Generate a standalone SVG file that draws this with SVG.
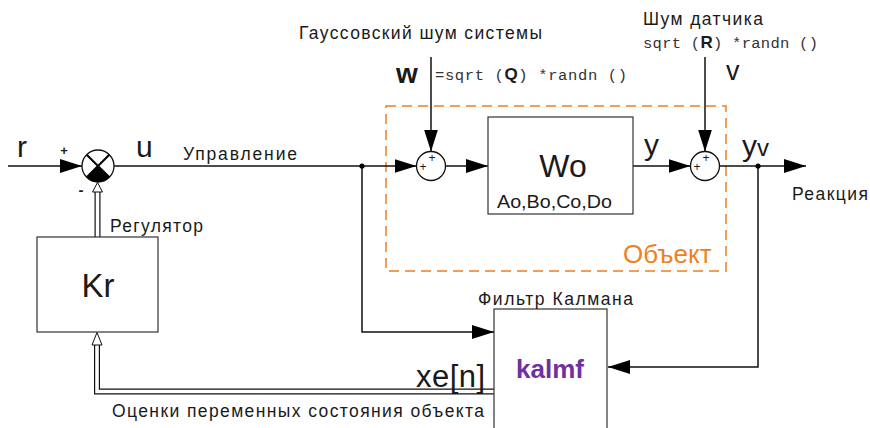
<svg xmlns="http://www.w3.org/2000/svg" width="870" height="428" viewBox="0 0 870 428">
<style>
.t{font-family:"Liberation Sans",Arial,sans-serif;fill:#1a1a1a}
.m{font-family:"Liberation Mono","Courier New",monospace;fill:#333}
.ln{fill:none;stroke:#111;stroke-width:1.5}
.box{fill:#fff;stroke:#333;stroke-width:1.2}
.sum{fill:#fff;stroke:#111;stroke-width:1.3}
.dbo{fill:none;stroke:#111;stroke-width:6}
.dbi{fill:none;stroke:#fff;stroke-width:3.6}
</style>
<defs>
<marker id="ah" viewBox="0 0 22 14" refX="22" refY="7" markerWidth="22" markerHeight="14" markerUnits="userSpaceOnUse" orient="auto">
<path d="M0,0 L22,7 L0,14 z" fill="#000"/>
</marker>
</defs>
<rect width="870" height="428" fill="#fff"/>

<g id="object-frame">
<rect x="386" y="106" width="340" height="165" fill="none" stroke="#F07F1E" stroke-width="1.5" stroke-dasharray="10 6"/>
<text x="623" y="263" style="font-family:'Liberation Sans',Arial,sans-serif;font-size:26px;fill:#F07F1E">Объект</text>
</g>

<g id="connectors">
<line class="ln" x1="8" y1="166" x2="82" y2="166" marker-end="url(#ah)"/>
<line class="ln" x1="114" y1="166" x2="416.5" y2="166" marker-end="url(#ah)"/>
<line class="ln" x1="445.5" y1="166" x2="488" y2="166" marker-end="url(#ah)"/>
<line class="ln" x1="633" y1="166" x2="690.5" y2="166" marker-end="url(#ah)"/>
<line class="ln" x1="719.5" y1="166" x2="806" y2="166" marker-end="url(#ah)"/>
<line class="ln" x1="431" y1="57" x2="431" y2="151.5" marker-end="url(#ah)"/>
<line class="ln" x1="705" y1="57" x2="705" y2="151.5" marker-end="url(#ah)"/>
<polyline class="ln" points="362,166 362,332 494,332" marker-end="url(#ah)"/>
<polyline class="ln" points="758,166 758,367 608,367" marker-end="url(#ah)"/>
<circle cx="362" cy="166" r="2.6" fill="#000"/>
<circle cx="758" cy="166" r="2.6" fill="#000"/>
<line class="dbo" x1="97.5" y1="237" x2="97.5" y2="191"/>
<line class="dbi" x1="97.5" y1="238" x2="97.5" y2="191"/>
<polygon points="97.5,182.5 92.5,192 102.5,192" fill="#fff" stroke="#111" stroke-width="1"/>
<polyline class="dbo" points="494,391.5 97,391.5 97,344"/>
<polyline class="dbi" points="494,391.5 97,391.5 97,344"/>
<polygon points="97,332.5 92,345 102,345" fill="#fff" stroke="#111" stroke-width="1"/>
</g>

<g id="sum1">
<circle class="sum" cx="98" cy="166" r="16" stroke-width="2"/>
<path d="M98,166 L86.7,177.3 A16,16 0 0 0 109.3,177.3 Z" fill="#000"/>
<line x1="86.7" y1="154.7" x2="109.3" y2="177.3" stroke="#000" stroke-width="2"/>
<line x1="109.3" y1="154.7" x2="86.7" y2="177.3" stroke="#000" stroke-width="2"/>
<text class="t" x="64" y="155" font-size="13" text-anchor="middle" font-weight="bold">+</text>
<text class="t" x="81" y="195" font-size="15" text-anchor="middle" font-weight="bold">-</text>
</g>

<g id="sum2">
<circle class="sum" cx="431" cy="166" r="14.5"/>
<text class="t" x="432" y="162" font-size="12" text-anchor="middle">+</text>
<text class="t" x="423" y="171" font-size="12" text-anchor="middle">+</text>
</g>

<g id="sum3">
<circle class="sum" cx="705" cy="166" r="14.5"/>
<text class="t" x="706" y="162" font-size="12" text-anchor="middle">+</text>
<text class="t" x="697" y="171" font-size="12" text-anchor="middle">+</text>
</g>

<g id="plant">
<rect class="box" x="488" y="117" width="145" height="97"/>
<text class="t" x="563" y="177" font-size="32" text-anchor="middle">Wo</text>
<text class="t" x="497" y="208" font-size="18" textLength="115" lengthAdjust="spacingAndGlyphs">Ao,Bo,Co,Do</text>
</g>

<g id="regulator">
<rect class="box" x="37" y="237" width="121" height="95"/>
<text class="t" x="98" y="297" font-size="33" text-anchor="middle">Kr</text>
</g>

<g id="kalman">
<rect class="box" x="494" y="309" width="113" height="130"/>
<text x="550" y="378" text-anchor="middle" style="font-family:'Liberation Sans',Arial,sans-serif;font-size:26px;font-weight:bold;fill:#7030A0">kalmf</text>
</g>

<g id="labels">
<text class="t" x="17" y="157" font-size="30">r</text>
<text class="t" x="136" y="157" font-size="30">u</text>
<text class="t" x="183" y="160" font-size="17.5" textLength="114">Управление</text>
<text class="t" x="110" y="232" font-size="17.5" textLength="93">Регулятор</text>
<text class="t" x="299" y="39" font-size="17.5" textLength="243">Гауссовский шум системы</text>
<text class="t" x="396" y="83" font-size="28" font-weight="bold">w</text>
<text class="m" x="435" y="80" font-size="15.5" xml:space="preserve" textLength="192">=sqrt (<tspan class="t" font-weight="bold" font-size="17" fill="#000">Q</tspan>) *randn ()</text>
<text class="t" x="643" y="25" font-size="17.5" textLength="120">Шум датчика</text>
<text class="m" x="643" y="48" font-size="15.5" xml:space="preserve" textLength="175">sqrt (<tspan class="t" font-weight="bold" font-size="17" fill="#000">R</tspan>) *randn ()</text>
<text class="t" x="726" y="80" font-size="27">v</text>
<text class="t" x="644" y="155" font-size="30">y</text>
<text class="t" x="742" y="156" font-size="30">y<tspan font-size="24">v</tspan></text>
<text class="t" x="792" y="200" font-size="17.5" textLength="76">Реакция</text>
<text class="t" x="478" y="305" font-size="17.5" textLength="155">Фильтр Калмана</text>
<text class="t" x="416" y="387" font-size="31" textLength="69">xe[n]</text>
<text class="t" x="112" y="417" font-size="17.5" textLength="372">Оценки переменных состояния объекта</text>
</g>
</svg>
